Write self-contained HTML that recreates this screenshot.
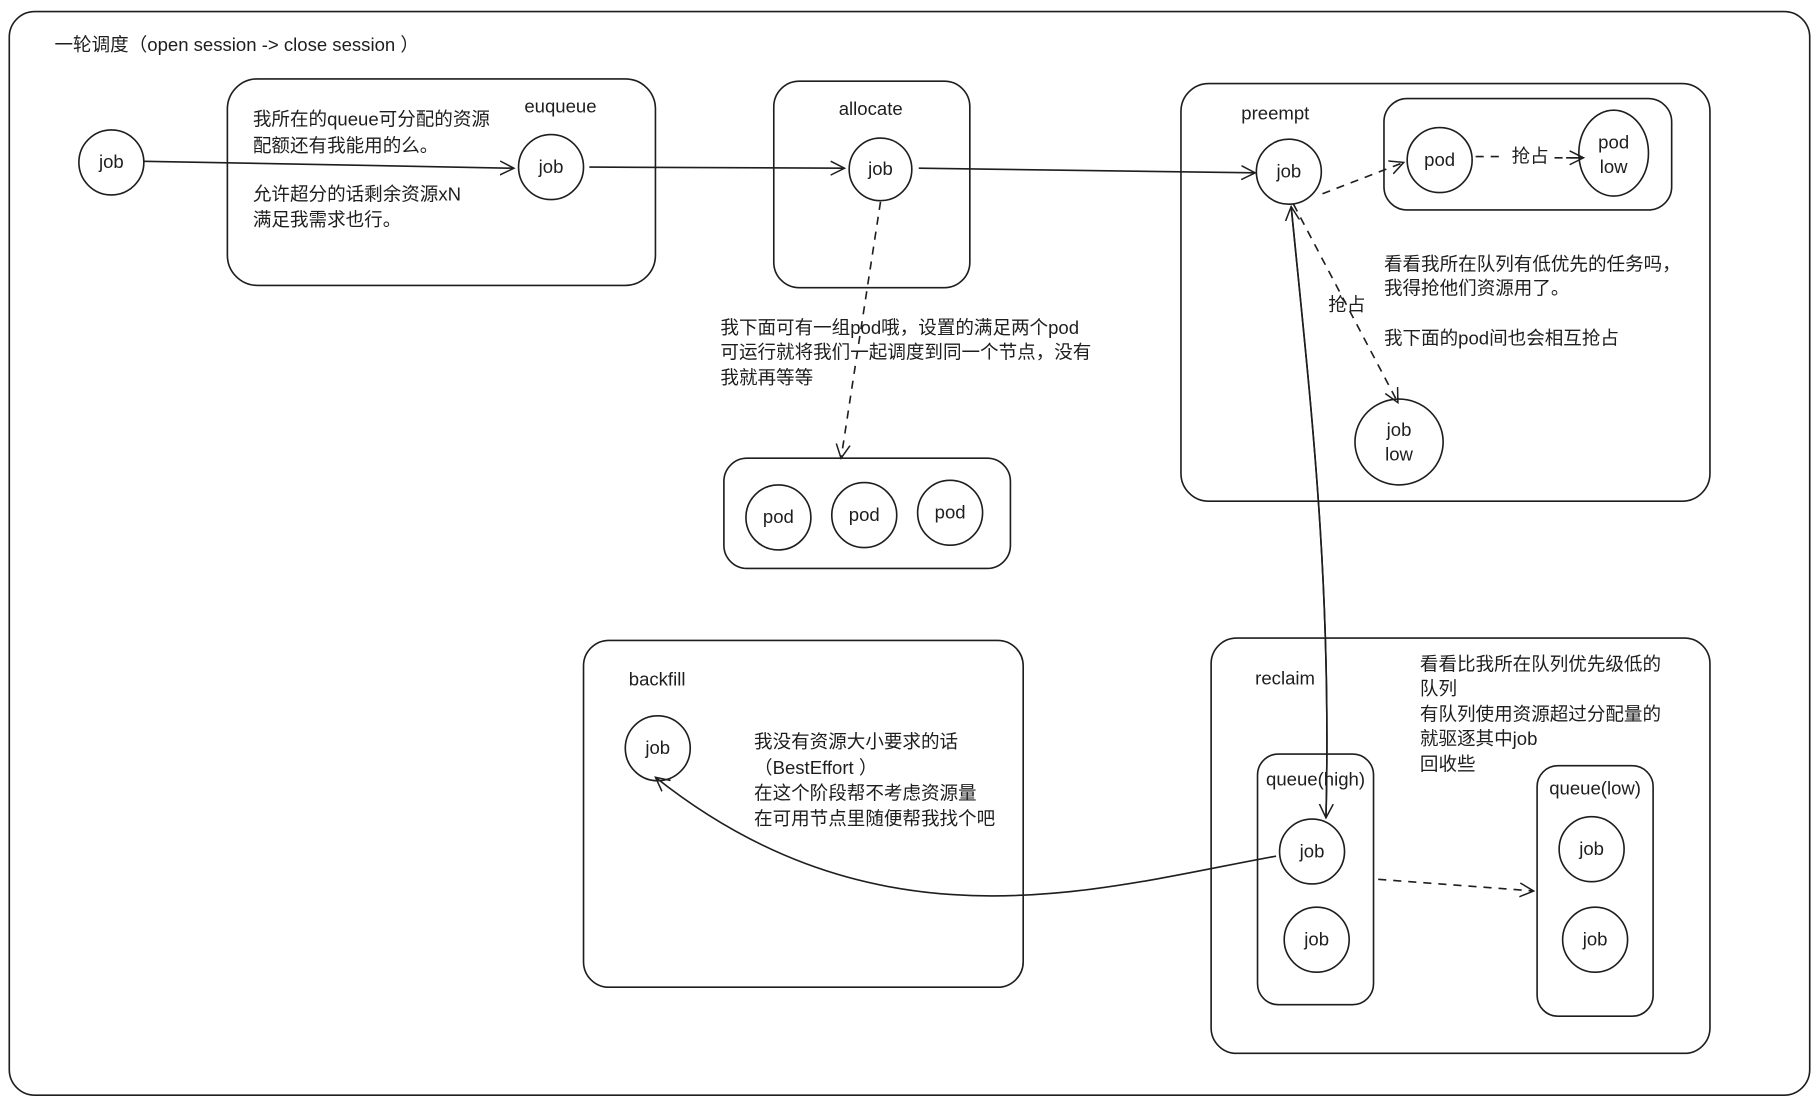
<!DOCTYPE html>
<html><head><meta charset="utf-8"><style>
html,body{margin:0;padding:0;background:#fff;}
svg{display:block;}
text{font-family:"Liberation Sans","Noto Sans CJK SC",sans-serif;font-size:16px;fill:#1e1e1e;}
.c{text-anchor:middle;}
</style></head><body>
<svg width="1819" height="1105" viewBox="0 0 1568 952.5" xmlns="http://www.w3.org/2000/svg">
<defs>
<marker id="a" markerWidth="14" markerHeight="14" refX="12" refY="7" orient="auto" markerUnits="userSpaceOnUse">
<path d="M0,1 L12,7 L0,13" fill="none" stroke="#1e1e1e" stroke-width="1.3"/></marker>
</defs>
<g fill="none" stroke="#1e1e1e" stroke-width="1.4">
<rect x="8" y="10" width="1552" height="934" rx="22"/>
<rect x="196" y="68" width="369" height="178" rx="26"/>
<rect x="667" y="70" width="169" height="178" rx="22"/>
<rect x="624" y="395" width="247" height="95" rx="20"/>
<rect x="1018" y="72" width="456" height="360" rx="24"/>
<rect x="1193" y="85" width="248" height="96" rx="20"/>
<rect x="503" y="552" width="379" height="299" rx="22"/>
<rect x="1044" y="550" width="430" height="358" rx="22"/>
<rect x="1084" y="650" width="100" height="216" rx="18"/>
<rect x="1325" y="660" width="100" height="216" rx="18"/>
<circle cx="96" cy="140" r="28"/>
<circle cx="475" cy="144" r="28"/>
<circle cx="759" cy="146" r="27"/>
<circle cx="671" cy="446" r="28"/>
<circle cx="745" cy="444" r="28"/>
<circle cx="819" cy="442" r="28"/>
<circle cx="1111" cy="148" r="28"/>
<circle cx="1241" cy="138" r="28"/>
<ellipse cx="1391" cy="132" rx="30" ry="37"/>
<ellipse cx="1206" cy="381" rx="38" ry="37"/>
<circle cx="567" cy="645" r="28"/>
<circle cx="1131" cy="734" r="28"/>
<circle cx="1135" cy="810" r="28"/>
<circle cx="1372" cy="732" r="28"/>
<circle cx="1375" cy="810" r="28"/>
<path d="M124,139 L443,145" marker-end="url(#a)"/>
<path d="M508,144 L728,145" marker-end="url(#a)"/>
<path d="M792,145 L1082,149" marker-end="url(#a)"/>
<path d="M759,174 L725,395" stroke-dasharray="7,6" marker-end="url(#a)"/>
<path d="M1140,167 L1210,140" stroke-dasharray="7,6" marker-end="url(#a)"/>
<path d="M1272,135 L1296,135 M1340,136 L1365,136" stroke-dasharray="7,6"/>
<path d="M1350,136 L1365,136" marker-end="url(#a)"/>
<path d="M1115,176 L1205,347" stroke-dasharray="7,6" marker-end="url(#a)"/>
<path d="M1113,178 C1130,350 1148,500 1143,705" marker-end="url(#a)"/>
<path d="M1143,705 C1148,500 1130,350 1113,178" marker-end="url(#a)"/>
<path d="M1100,738 C950,765 760,825 565,670" marker-end="url(#a)"/>
<path d="M1188,758 L1322,768" stroke-dasharray="7,6" marker-end="url(#a)"/>
</g>
<text x="47" y="44">一轮调度（open session -&gt; close session ）</text>
<text x="452" y="97">euqueue</text>
<text x="218" y="108">我所在的queue可分配的资源</text>
<text x="218" y="131">配额还有我能用的么。</text>
<text x="218" y="173">允许超分的话剩余资源xN</text>
<text x="218" y="195">满足我需求也行。</text>
<text x="723" y="99">allocate</text>
<text x="621" y="288">我下面可有一组pod哦，设置的满足两个pod</text>
<text x="621" y="309">可运行就将我们一起调度到同一个节点，没有</text>
<text x="621" y="331">我就再等等</text>
<text x="1070" y="103">preempt</text>
<text x="1303" y="140">抢占</text>
<text x="1145" y="268">抢占</text>
<text x="1193" y="233">看看我所在队列有低优先的任务吗，</text>
<text x="1193" y="254">我得抢他们资源用了。</text>
<text x="1193" y="297">我下面的pod间也会相互抢占</text>
<text x="542" y="591">backfill</text>
<text x="650" y="645">我没有资源大小要求的话</text>
<text x="650" y="667">（BestEffort ）</text>
<text x="650" y="689">在这个阶段帮不考虑资源量</text>
<text x="650" y="711">在可用节点里随便帮我找个吧</text>
<text x="1082" y="590">reclaim</text>
<text x="1224" y="578">看看比我所在队列优先级低的</text>
<text x="1224" y="599">队列</text>
<text x="1224" y="621">有队列使用资源超过分配量的</text>
<text x="1224" y="642">就驱逐其中job</text>
<text x="1224" y="664">回收些</text>
<text x="1134" y="677" class="c">queue(high)</text>
<text x="1375" y="685" class="c">queue(low)</text>
<text x="96" y="145" class="c">job</text>
<text x="475" y="149" class="c">job</text>
<text x="759" y="151" class="c">job</text>
<text x="671" y="451" class="c">pod</text>
<text x="745" y="449" class="c">pod</text>
<text x="819" y="447" class="c">pod</text>
<text x="1111" y="153" class="c">job</text>
<text x="1241" y="143" class="c">pod</text>
<text x="1391" y="128" class="c">pod</text>
<text x="1391" y="149" class="c">low</text>
<text x="1206" y="376" class="c">job</text>
<text x="1206" y="397" class="c">low</text>
<text x="567" y="650" class="c">job</text>
<text x="1131" y="739" class="c">job</text>
<text x="1135" y="815" class="c">job</text>
<text x="1372" y="737" class="c">job</text>
<text x="1375" y="815" class="c">job</text>
</svg>
</body></html>
